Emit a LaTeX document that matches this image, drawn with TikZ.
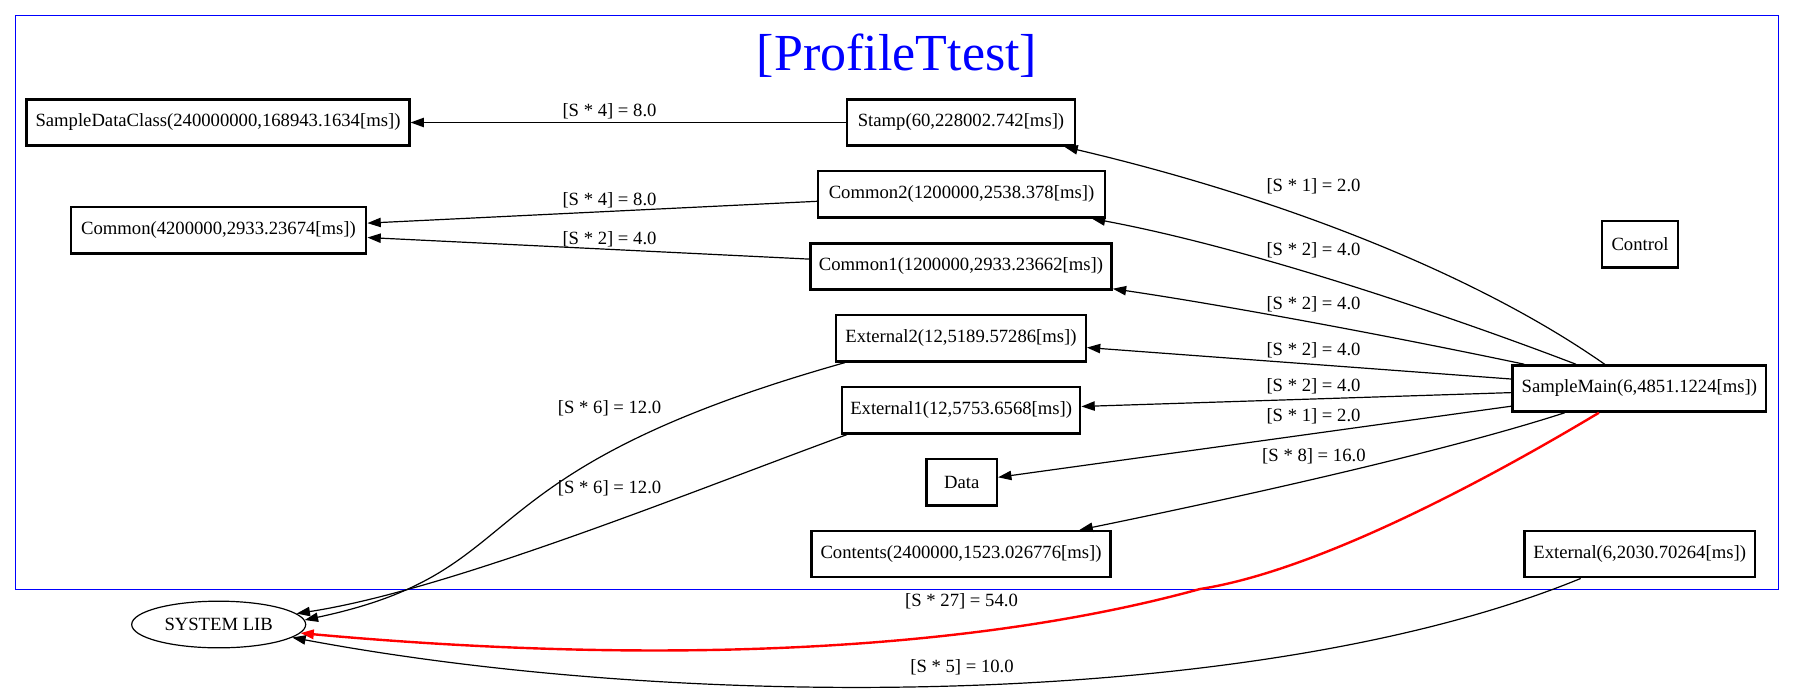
\documentclass[tikz,border=0pt]{standalone}
\usepackage{fontspec}
\setmainfont{Liberation Serif}
\usetikzlibrary{arrows.meta,shapes.geometric,calc}
\begin{document}
\begin{tikzpicture}[x=0.75pt,y=-0.75pt,
  box/.style={draw, line width=1.8pt, minimum height=34.6pt, inner sep=0pt, font=\fontsize{14}{16}\selectfont},
  lib/.style={draw, ellipse, line width=0.9pt, minimum width=130.5pt, minimum height=35pt, inner sep=0pt, font=\fontsize{14}{16}\selectfont},
  lbl/.style={inner sep=0pt, font=\fontsize{14}{16}\selectfont},
  edge/.style={line width=0.9pt, -{Triangle[length=10pt,width=7pt]}},
  hot/.style={line width=1.8pt, draw=red, -{Triangle[length=10pt,width=7pt]}}]
\fill[white] (0,0) rectangle (1795,693);
\useasboundingbox (0,0) rectangle (1795,693);
\draw[blue, line width=0.8pt] (15.3,15.7) rectangle (1778.7,589.3);
\node[anchor=base, inner sep=0pt, text=blue, font=\fontsize{39}{44}\selectfont] (title) at (897,70) {[ProfileTtest]};

\node[box, minimum width=287pt]   (sdc)    at (218,122.5)   {SampleDataClass(240000000,168943.1634[ms])};
\node[box, minimum width=221.6pt] (common) at (218.5,230.3) {Common(4200000,2933.23674[ms])};
\node[box, minimum width=171.4pt] (stamp)  at (961,122.5)   {Stamp(60,228002.742[ms])};
\node[box, minimum width=215pt]   (cm2)    at (961.5,194.3) {Common2(1200000,2538.378[ms])};
\node[box, minimum width=225.9pt] (cm1)    at (961,266.5)   {Common1(1200000,2933.23662[ms])};
\node[box, minimum width=56.6pt]  (ctrl)   at (1640,244.3)  {Control};
\node[box, minimum width=190.4pt] (sm)     at (1639.3,388.5){SampleMain(6,4851.1224[ms])};
\node[box, minimum width=172.8pt] (ext)    at (1639.7,554.2){External(6,2030.70264[ms])};
\node[box, minimum width=187.1pt] (ext2)   at (961,338.3)   {External2(12,5189.57286[ms])};
\node[box, minimum width=178.5pt] (ext1)   at (961.2,410.3) {External1(12,5753.6568[ms])};
\node[box, minimum width=52.8pt]  (data)   at (961.7,482.3) {Data};
\node[box, minimum width=224.5pt] (cont)   at (961,554.2)   {Contents(2400000,1523.026776[ms])};
\node[lib] (sys) at (218.7,624.5) {SYSTEM LIB};

\draw[edge] (stamp) -- (sdc);
\draw[edge] (cm2) -- (common);
\draw[edge] (cm1) -- (common);
\draw[edge] (sm) .. controls (1470,270) and (1270,195) .. (stamp);
\draw[edge] (sm) .. controls (1450,316) and (1250,248) .. (cm2);
\draw[edge] (sm) .. controls (1400,338) and (1230,306) .. (cm1);
\draw[edge] (sm) -- (ext2);
\draw[edge] (sm) -- (ext1);
\draw[edge] (sm) -- (data);
\draw[edge] (sm) .. controls (1450,450) and (1250,495) .. (cont);
\draw[edge] ($(ext2.south west)+(10,0)$) .. controls (450,474) and (540,570) .. (sys.3);
\draw[edge] ($(ext1.south west)+(6,0)$) .. controls (690,492) and (450,590) .. (sys.8);
\draw[hot] (sm) .. controls (1470,490) and (1310,572) .. (1200,589) .. controls (960,655) and (640,664) .. (sys.-6);
\draw[edge] (ext) .. controls (1260,710) and (690,712) .. (sys.-10);

\node[lbl] (l1)  at (609.5,111.7) {[S * 4] = 8.0};
\node[lbl] (l2)  at (609.5,200)   {[S * 4] = 8.0};
\node[lbl] (l3)  at (609.5,239.3) {[S * 2] = 4.0};
\node[lbl] (l4)  at (1313.5,186)  {[S * 1] = 2.0};
\node[lbl] (l5)  at (1313.5,250.7){[S * 2] = 4.0};
\node[lbl] (l6)  at (1313.5,304.5){[S * 2] = 4.0};
\node[lbl] (l7)  at (1313.5,350)  {[S * 2] = 4.0};
\node[lbl] (l8)  at (1313.5,386)  {[S * 2] = 4.0};
\node[lbl] (l9)  at (1313.5,416)  {[S * 1] = 2.0};
\node[lbl] (l10) at (1313.9,456)  {[S * 8] = 16.0};
\node[lbl] (l11) at (609.6,408)   {[S * 6] = 12.0};
\node[lbl] (l12) at (609.6,488)   {[S * 6] = 12.0};
\node[lbl] (l13) at (961.5,601.7) {[S * 27] = 54.0};
\node[lbl] (l14) at (962,667.7)   {[S * 5] = 10.0};
\end{tikzpicture}
\end{document}
